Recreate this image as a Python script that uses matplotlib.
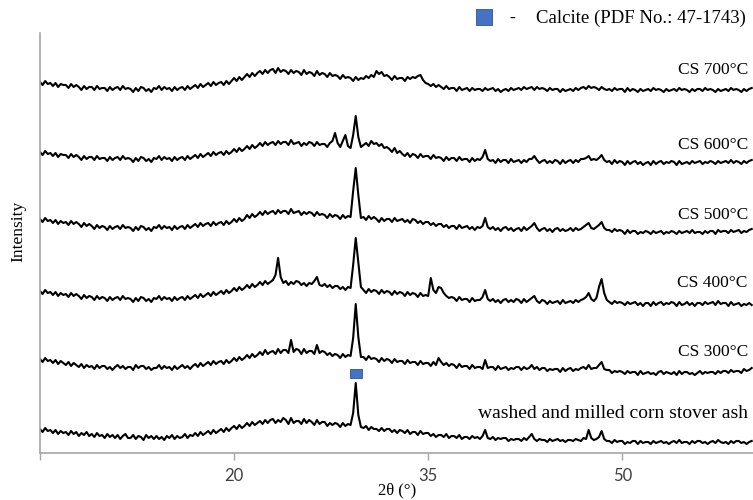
import numpy as np
import matplotlib
matplotlib.use("Agg")
import matplotlib.pyplot as plt
from matplotlib.patches import Rectangle

# 2theta sampling of the traces (degrees)
theta_start = 5.0
theta_step = 0.2

# intensities (arbitrary units, offset already included)
washed = [
    24, 21, 25, 22, 23, 20, 23, 19, 22, 20, 21, 18, 22, 19, 21, 17, 20, 18, 21, 17,
    19, 16, 20, 17, 18, 15, 19, 16, 18, 15, 18, 14, 17, 19, 15, 15, 18, 14, 17, 16,
    13, 18, 15, 17, 14, 17, 14, 16, 13, 17, 15, 18, 14, 17, 15, 16, 19, 15, 18, 17,
    20, 17, 21, 18, 20, 22, 19, 23, 20, 22, 24, 21, 25, 22, 25, 27, 24, 28, 25, 27,
    30, 27, 31, 28, 30, 32, 29, 33, 30, 33, 34, 30, 33, 31, 35, 33, 29, 35, 30, 32,
    32, 29, 34, 30, 33, 31, 28, 33, 29, 31, 31, 27, 30, 28, 30, 29, 26, 30, 27, 29,
    28, 40, 70, 38, 26, 25, 27, 23, 26, 24, 24, 22, 25, 22, 24, 24, 21, 23, 20, 23,
    22, 20, 23, 19, 21, 21, 18, 22, 19, 20, 20, 17, 19, 16, 18, 18, 16, 19, 15, 17,
    17, 15, 18, 14, 16, 16, 14, 17, 15, 16, 14, 17, 23, 15, 14, 16, 13, 15, 14, 15,
    15, 12, 14, 13, 14, 14, 12, 15, 13, 16, 19, 14, 12, 14, 13, 13, 11, 14, 12, 13,
    14, 12, 13, 11, 13, 13, 12, 14, 13, 12, 15, 14, 23, 15, 13, 14, 16, 22, 14, 12,
    12, 10, 13, 11, 12, 12, 9, 11, 10, 12, 12, 9, 12, 10, 11, 11, 9, 12, 10, 11,
    12, 10, 11, 9, 11, 12, 10, 13, 10, 11, 11, 9, 12, 10, 12, 12, 10, 11, 9, 11,
    12, 10, 13, 11, 10, 11, 9, 12, 10, 12, 12, 10, 11, 9, 11, 12,
]
cs300 = [
    94, 91, 95, 92, 93, 90, 93, 89, 92, 90, 88, 91, 87, 90, 88, 86, 89, 85, 88, 86,
    87, 84, 88, 85, 87, 87, 84, 86, 83, 86, 88, 85, 87, 84, 86, 86, 83, 88, 85, 87,
    87, 84, 86, 83, 85, 85, 88, 84, 87, 85, 86, 83, 87, 84, 86, 88, 85, 87, 84, 87,
    89, 86, 90, 87, 89, 91, 88, 92, 89, 91, 92, 89, 93, 90, 92, 95, 92, 96, 93, 95,
    98, 95, 99, 96, 98, 101, 98, 103, 99, 101, 102, 99, 104, 100, 103, 103, 100, 113, 101, 104,
    103, 99, 104, 100, 102, 102, 99, 108, 100, 102, 101, 98, 100, 97, 99, 98, 95, 99, 96, 98,
    97, 115, 149, 116, 96, 96, 93, 97, 94, 95, 94, 91, 95, 92, 94, 93, 90, 94, 91, 92,
    92, 89, 93, 90, 91, 91, 88, 92, 89, 90, 90, 87, 91, 88, 95, 91, 88, 90, 87, 89,
    88, 85, 89, 86, 87, 87, 84, 88, 85, 86, 86, 84, 93, 85, 86, 86, 83, 87, 84, 85,
    86, 83, 85, 84, 86, 86, 83, 86, 84, 85, 88, 84, 86, 83, 85, 85, 82, 84, 83, 84,
    84, 81, 85, 82, 84, 85, 82, 84, 83, 85, 86, 84, 88, 84, 85, 85, 88, 91, 84, 83,
    83, 80, 82, 81, 82, 81, 79, 82, 80, 81, 81, 78, 82, 79, 80, 81, 79, 80, 78, 81,
    82, 79, 81, 80, 79, 81, 78, 82, 79, 81, 81, 79, 80, 78, 80, 82, 79, 81, 80, 81,
    81, 79, 82, 80, 82, 82, 80, 83, 81, 82, 82, 80, 84, 82, 83, 85,
]
cs400 = [
    162, 159, 163, 160, 161, 158, 161, 157, 160, 158, 159, 156, 160, 157, 159, 157, 154, 158, 155, 157,
    156, 153, 157, 154, 156, 155, 152, 156, 153, 155, 156, 153, 157, 154, 155, 154, 151, 155, 152, 156,
    155, 152, 154, 151, 155, 154, 157, 153, 156, 154, 155, 152, 156, 153, 155, 156, 153, 157, 154, 156,
    158, 155, 159, 156, 158, 160, 157, 161, 158, 160, 162, 159, 163, 160, 162, 165, 162, 166, 163, 165,
    168, 165, 169, 166, 168, 171, 168, 172, 169, 171, 173, 178, 195, 176, 170, 172, 168, 171, 169, 172,
    171, 168, 170, 167, 170, 169, 172, 176, 168, 167, 169, 166, 168, 165, 167, 167, 164, 166, 163, 166,
    165, 188, 215, 190, 166, 163, 160, 164, 161, 163, 162, 159, 163, 160, 162, 161, 158, 162, 159, 161,
    160, 157, 161, 158, 160, 159, 156, 160, 157, 158, 157, 175, 163, 160, 166, 165, 160, 157, 155, 156,
    155, 152, 156, 153, 154, 154, 151, 155, 152, 153, 153, 156, 163, 154, 152, 154, 151, 153, 150, 153,
    154, 151, 153, 151, 154, 153, 150, 154, 151, 153, 155, 157, 152, 150, 153, 152, 149, 152, 150, 151,
    152, 149, 153, 150, 151, 152, 150, 153, 151, 153, 154, 156, 160, 154, 152, 155, 166, 174, 160, 153,
    151, 149, 152, 150, 151, 150, 148, 151, 149, 150, 151, 148, 150, 147, 150, 150, 147, 151, 148, 150,
    151, 148, 150, 149, 151, 150, 147, 151, 148, 149, 151, 148, 150, 147, 150, 150, 148, 151, 149, 150,
    151, 148, 152, 149, 150, 150, 147, 151, 148, 149, 150, 147, 149, 148, 150, 148,
]
cs500 = [
    234, 231, 235, 232, 233, 230, 233, 229, 232, 230, 231, 228, 232, 229, 231, 229, 226, 230, 227, 229,
    227, 224, 228, 225, 227, 226, 223, 227, 224, 226, 227, 224, 228, 225, 226, 225, 222, 226, 223, 227,
    226, 223, 225, 222, 226, 225, 228, 224, 227, 225, 226, 223, 227, 224, 226, 227, 224, 228, 225, 227,
    229, 226, 230, 227, 229, 230, 227, 231, 228, 230, 231, 228, 232, 229, 231, 234, 231, 235, 232, 234,
    238, 235, 239, 236, 238, 241, 238, 242, 239, 241, 242, 239, 243, 240, 242, 242, 239, 244, 240, 241,
    242, 238, 241, 239, 241, 240, 237, 241, 238, 239, 238, 235, 239, 236, 238, 237, 234, 238, 235, 237,
    236, 262, 285, 258, 235, 236, 233, 237, 234, 236, 234, 231, 235, 232, 234, 234, 231, 235, 232, 233,
    234, 231, 233, 230, 234, 233, 230, 232, 229, 231, 231, 228, 230, 227, 229, 229, 226, 228, 225, 227,
    227, 224, 228, 225, 226, 227, 224, 226, 223, 226, 225, 227, 235, 226, 224, 226, 223, 225, 222, 225,
    226, 223, 225, 222, 224, 225, 222, 226, 223, 225, 227, 230, 225, 222, 224, 225, 222, 224, 221, 224,
    225, 222, 224, 222, 223, 225, 222, 225, 223, 224, 226, 228, 230, 225, 224, 226, 228, 231, 225, 223,
    223, 221, 224, 222, 223, 222, 219, 223, 220, 222, 222, 219, 221, 220, 222, 221, 219, 222, 220, 221,
    222, 219, 221, 220, 222, 221, 219, 222, 220, 221, 222, 220, 223, 220, 221, 221, 219, 222, 220, 222,
    222, 219, 223, 221, 222, 222, 220, 223, 221, 222, 223, 220, 222, 221, 223, 224,
]
cs600 = [
    301, 298, 302, 299, 300, 297, 300, 296, 299, 298, 298, 295, 299, 296, 298, 296, 293, 297, 294, 296,
    296, 293, 297, 294, 295, 295, 292, 296, 293, 295, 296, 293, 297, 294, 295, 294, 291, 295, 292, 296,
    295, 292, 294, 291, 295, 294, 297, 293, 296, 294, 295, 292, 296, 293, 295, 296, 293, 297, 294, 296,
    298, 295, 299, 296, 298, 300, 297, 301, 298, 300, 301, 298, 302, 299, 301, 304, 301, 305, 302, 304,
    307, 304, 308, 305, 307, 310, 307, 311, 308, 310, 311, 308, 312, 309, 311, 311, 308, 313, 309, 310,
    311, 307, 310, 308, 311, 310, 307, 311, 308, 309, 309, 306, 310, 312, 320, 310, 306, 312, 318, 307,
    305, 318, 337, 316, 306, 308, 310, 307, 312, 309, 310, 307, 309, 305, 306, 304, 301, 305, 300, 302,
    299, 297, 300, 296, 299, 298, 295, 299, 296, 297, 297, 294, 298, 295, 296, 295, 292, 296, 293, 295,
    295, 292, 296, 293, 294, 294, 291, 295, 292, 294, 293, 296, 303, 294, 292, 293, 290, 294, 291, 293,
    293, 290, 294, 291, 292, 293, 290, 293, 291, 294, 294, 297, 293, 290, 292, 293, 290, 292, 290, 293,
    292, 289, 293, 290, 292, 293, 290, 293, 291, 294, 294, 295, 297, 293, 294, 293, 295, 298, 293, 291,
    292, 289, 293, 290, 292, 291, 288, 292, 289, 291, 292, 289, 291, 288, 290, 291, 288, 292, 289, 291,
    292, 289, 291, 290, 292, 291, 288, 292, 289, 290, 291, 289, 292, 290, 291, 292, 289, 291, 290, 292,
    291, 289, 292, 290, 291, 292, 290, 293, 290, 292, 291, 289, 292, 290, 292, 293,
]
cs700 = [
    371, 368, 372, 369, 370, 367, 370, 366, 369, 368, 368, 365, 369, 366, 368, 366, 363, 367, 364, 366,
    366, 363, 367, 364, 365, 365, 362, 366, 363, 365, 366, 363, 367, 364, 365, 364, 361, 365, 362, 366,
    365, 362, 364, 361, 365, 364, 367, 363, 366, 364, 365, 362, 366, 363, 365, 366, 363, 367, 364, 366,
    368, 365, 369, 366, 368, 370, 367, 371, 368, 370, 371, 368, 372, 369, 372, 375, 372, 376, 373, 376,
    379, 376, 380, 377, 380, 382, 379, 383, 380, 383, 384, 380, 385, 381, 383, 382, 379, 383, 380, 382,
    381, 378, 383, 379, 381, 380, 377, 382, 378, 380, 379, 376, 380, 377, 378, 377, 374, 378, 375, 376,
    375, 372, 376, 373, 375, 374, 377, 375, 378, 376, 382, 379, 381, 377, 378, 376, 373, 377, 374, 375,
    375, 372, 376, 374, 376, 375, 377, 378, 373, 370, 369, 367, 369, 366, 368, 366, 364, 367, 364, 365,
    365, 362, 366, 363, 364, 365, 362, 365, 363, 364, 364, 362, 365, 363, 364, 365, 362, 364, 361, 363,
    364, 362, 365, 363, 364, 365, 363, 366, 364, 365, 366, 363, 366, 364, 365, 364, 362, 365, 363, 364,
    364, 361, 364, 362, 363, 364, 362, 365, 363, 365, 366, 364, 367, 365, 366, 365, 363, 366, 364, 363,
    364, 362, 365, 363, 364, 364, 361, 365, 362, 364, 363, 361, 364, 362, 363, 364, 362, 365, 363, 364,
    363, 361, 364, 362, 363, 364, 362, 365, 363, 364, 363, 361, 364, 362, 364, 364, 362, 365, 363, 364,
    363, 361, 364, 362, 363, 364, 362, 365, 363, 364, 363, 361, 364, 362, 364, 365,
]

series = [washed, cs300, cs400, cs500, cs600, cs700]
names = ["washed and milled corn stover ash", "CS 300°C", "CS 400°C",
         "CS 500°C", "CS 600°C", "CS 700°C"]
name_y = [40, 101, 170, 238, 308, 383]
name_size = [14, 12.5, 12.5, 12.5, 12.5, 12.5]

calcite_theta = 29.45
calcite_y = 79.5

serif = ["Liberation Serif", "DejaVu Serif"]
grey = "#a6a6a6"

fig = plt.figure(figsize=(7.53, 5.0), dpi=100)
ax = fig.add_axes([40 / 753, 47 / 500, 713 / 753, 420 / 500])

for vals in series:
    x = theta_start + theta_step * np.arange(len(vals))
    ax.plot(x, vals, color="black", lw=1.5)

for name, y, fs in zip(names, name_y, name_size):
    ax.text(59.7, y, name, ha="right", va="center", fontsize=fs, family=serif)

# calcite marker above the main peak
ax.add_patch(Rectangle((calcite_theta - 0.46, calcite_y - 4.5), 0.92, 9,
                       facecolor="#4472c4", edgecolor="#2f528f", lw=0.6))

ax.set_xlim(5, 60.1)
ax.set_ylim(0, 420)
ax.set_xticks([5, 20, 35, 50])
ax.set_xticklabels(["", "20", "35", "50"])
ax.set_yticks([])
ax.tick_params(axis="x", direction="out", length=5, color=grey, width=1,
               labelsize=12, labelcolor="#404040", pad=6)
for lbl in ax.get_xticklabels():
    lbl.set_family("Lato")
for s in ["top", "right"]:
    ax.spines[s].set_visible(False)
for s in ["left", "bottom"]:
    ax.spines[s].set_color(grey)
    ax.spines[s].set_linewidth(1.2)

# axis titles
fig.text(397 / 753, 1 - 490 / 500, "2θ (°)", ha="center", va="center",
         fontsize=12, family=serif)
fig.text(18 / 753, 1 - 231 / 500, "Intensity", ha="center", va="center",
         rotation=90, fontsize=12.5, family=serif)

# legend entry at the top
fig.add_artist(Rectangle((476 / 753, 1 - 25 / 500), 16 / 753, 16 / 500,
                         transform=fig.transFigure, facecolor="#4472c4",
                         edgecolor="#2f528f", lw=0.6))
fig.text(512 / 753, 1 - 18 / 500, "-", ha="center", va="center",
         fontsize=13, family=serif)
fig.text(746 / 753, 1 - 18 / 500, "Calcite (PDF No.: 47-1743)", ha="right",
         va="center", fontsize=13.5, family=serif)

fig.savefig("out.png", dpi=100)
